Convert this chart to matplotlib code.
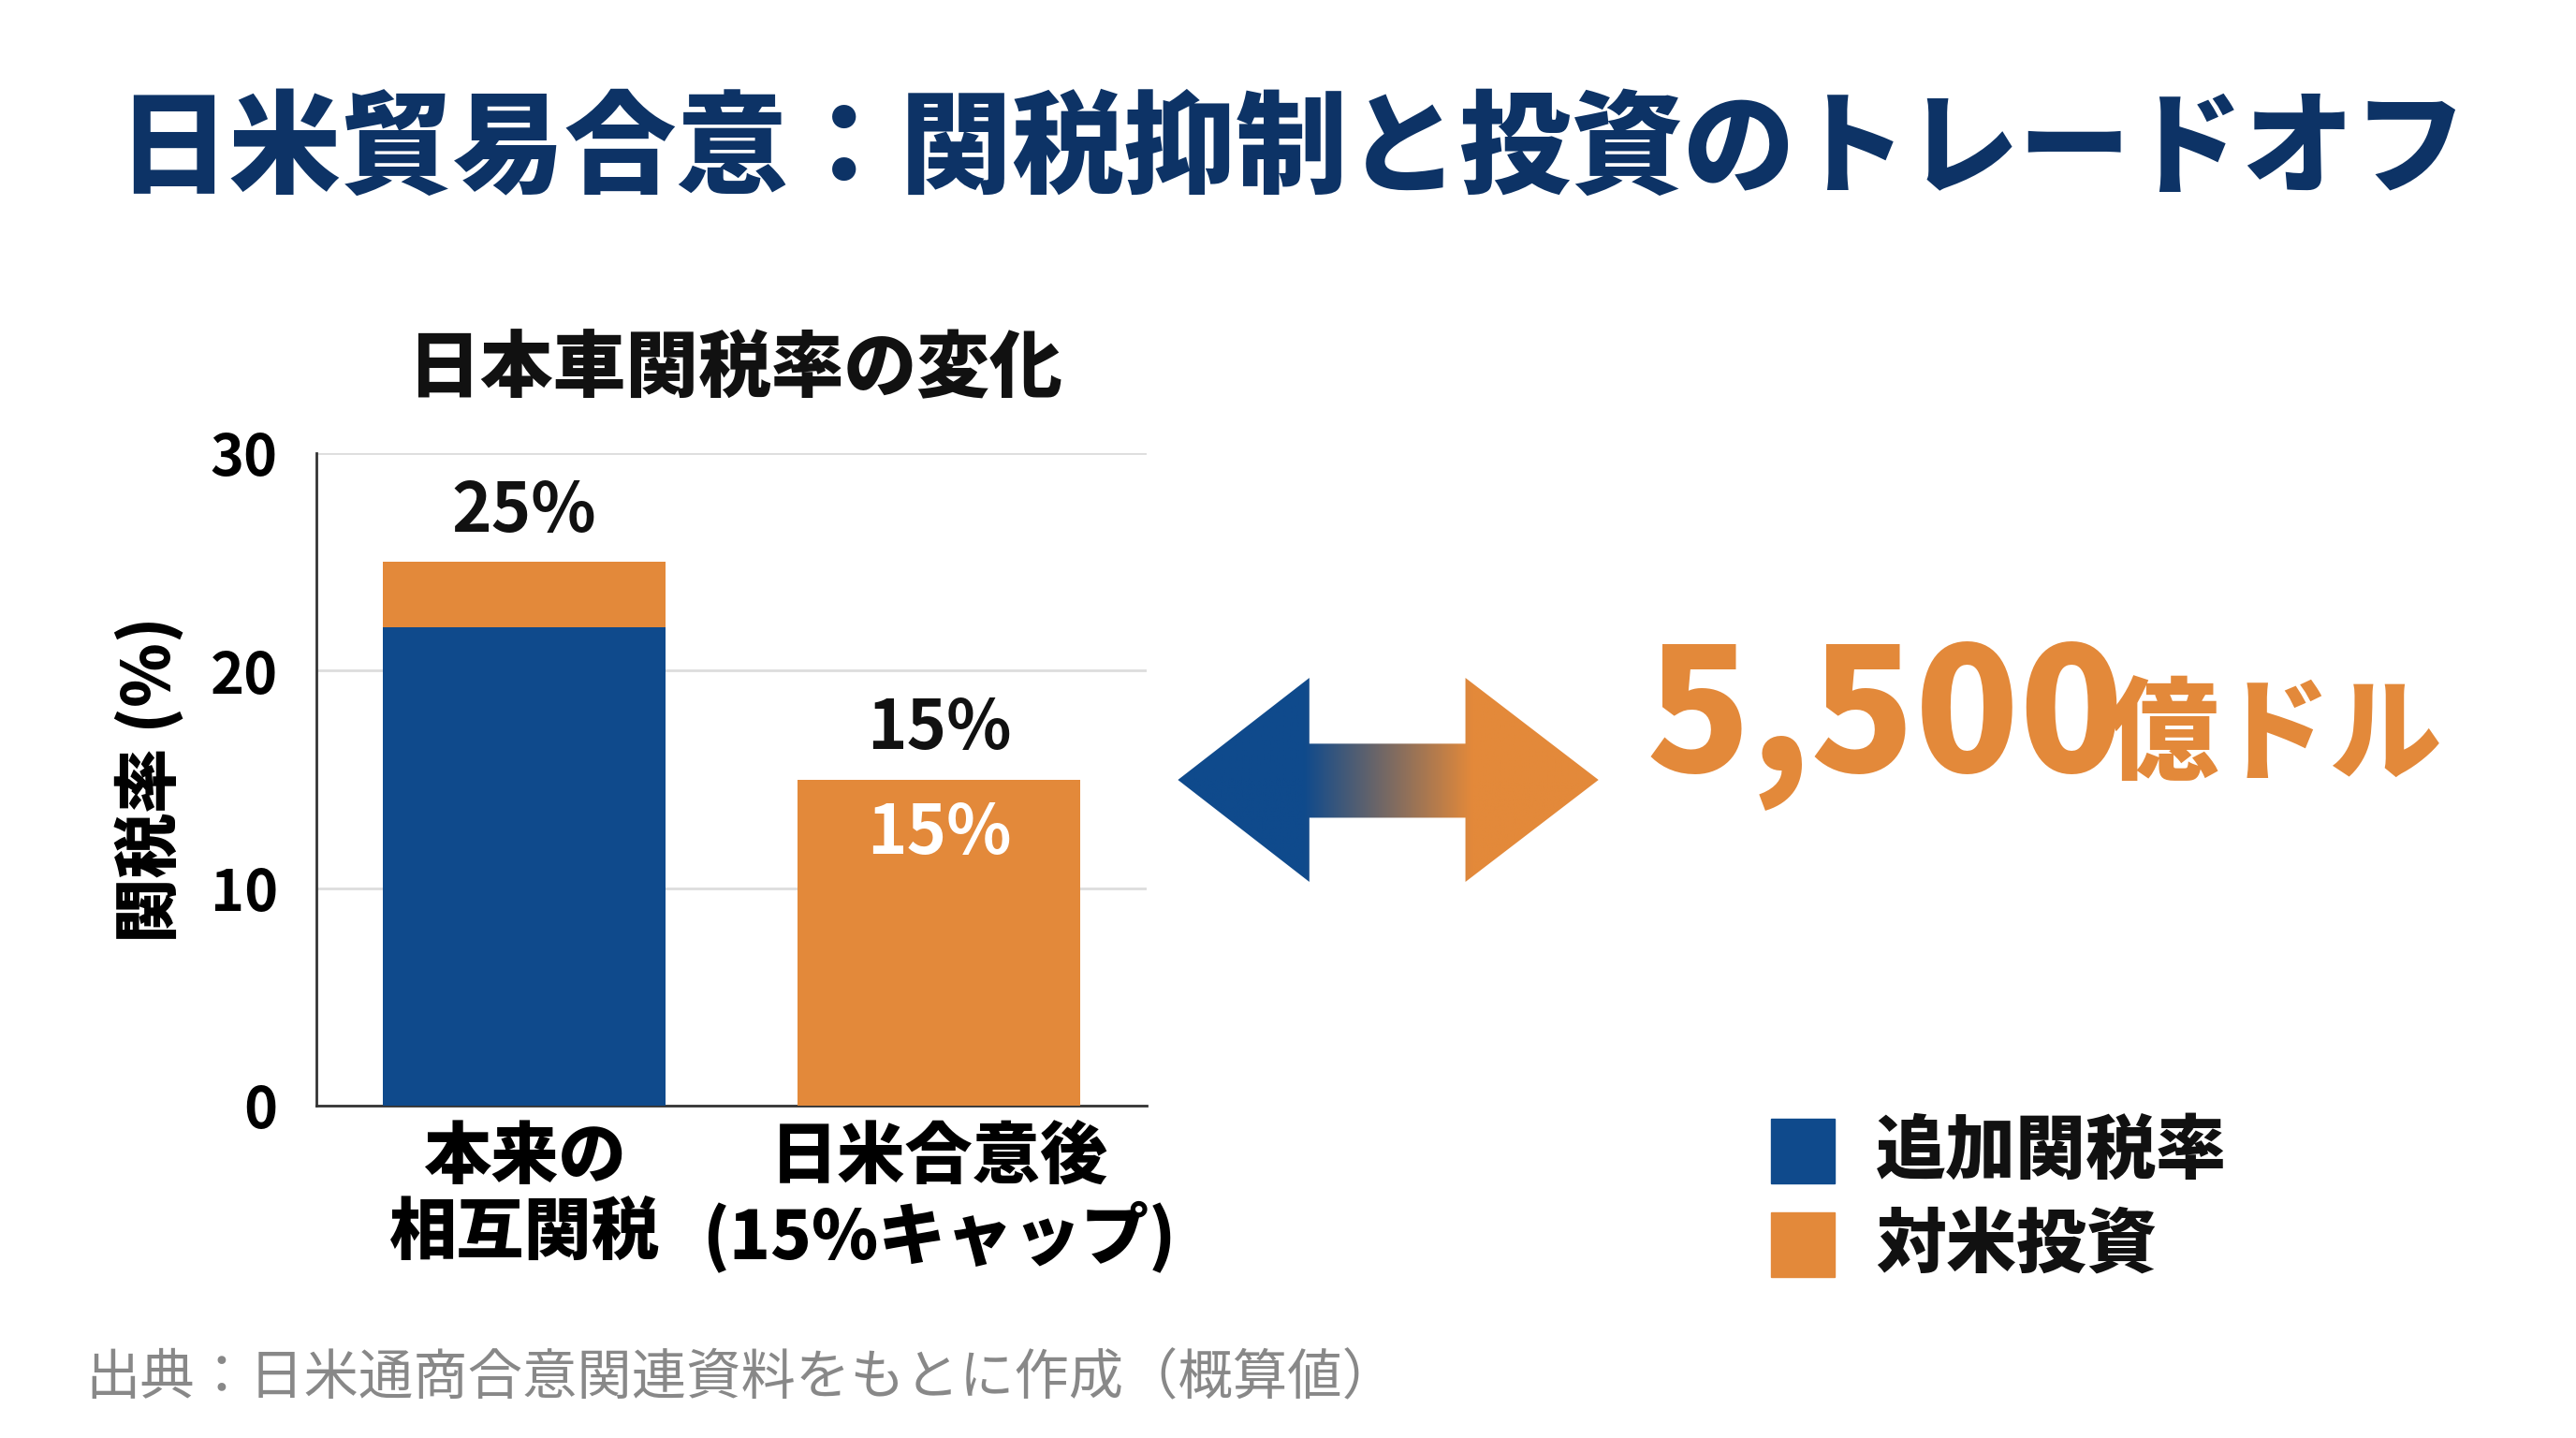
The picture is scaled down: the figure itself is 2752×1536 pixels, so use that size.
import matplotlib
matplotlib.use("Agg")
import matplotlib.pyplot as plt
import numpy as np
from matplotlib.colors import LinearSegmentedColormap
from matplotlib.patches import Polygon

plt.rcParams['font.family'] = ['Noto Sans CJK JP', 'DejaVu Sans']

categories = ["本来の\n相互関税", "日米合意後\n(15%キャップ)"]
extra_tariff = [22, 0]
us_investment = [3, 15]
totals = [25, 15]
inner_labels = [None, "15%"]
yticks = [0, 10, 20, 30]
investment_text = "5,500"
investment_unit = "億ドル"

BLUE = "#0f4a8c"
ORANGE = "#e3893a"
NAVY = "#0d3366"

fig = plt.figure(figsize=(27.52, 15.36), dpi=100)
fig.patch.set_facecolor("white")

# overlay in reference pixel coords (1568 x 874 view)
ov = fig.add_axes([0, 0, 1, 1])
ov.set_xlim(0, 1568)
ov.set_ylim(874, 0)
ov.axis("off")

ov.text(786, 92, "日米貿易合意：関税抑制と投資のトレードオフ", ha="center", va="center",
        fontsize=86, fontweight="black", color=NAVY)
ov.text(447, 225, "日本車関税率の変化", ha="center", va="center",
        fontsize=56, fontweight="black", color="#111111")
ov.text(52, 838, "出典：日米通商合意関連資料をもとに作成（概算値）", ha="left", va="center",
        fontsize=42, color="#888888")

# gradient double arrow
arrow = Polygon([(717, 474), (797, 412), (797, 452), (892, 452), (892, 412),
                 (973, 474), (892, 536), (892, 497), (797, 497), (797, 536)],
                closed=True, facecolor="none", edgecolor="none")
ov.add_patch(arrow)
cmap = LinearSegmentedColormap.from_list("g", [(0, BLUE), (0.3, BLUE), (0.7, ORANGE), (1, ORANGE)])
grad = np.linspace(0, 1, 256).reshape(1, -1)
im = ov.imshow(grad, cmap=cmap, extent=(717, 973, 536, 412), aspect="auto", zorder=2)
im.set_clip_path(arrow)

ov.text(1002, 440, investment_text, ha="left", va="center", fontsize=132,
        fontweight="black", color=ORANGE)
ov.text(1282, 448, investment_unit, ha="left", va="center", fontsize=86,
        fontweight="black", color=ORANGE)

# legend
for y, c, lab in [(700, BLUE, "追加関税率"), (757, ORANGE, "対米投資")]:
    ov.add_patch(plt.Rectangle((1078, y - 20), 39, 39, color=c))
    ov.text(1142, y, lab, ha="left", va="center", fontsize=54, fontweight="black", color="#111111")

# bar chart
ax = fig.add_axes([0.123, 0.231, 0.322, 0.454])
x = np.arange(len(categories))
ax.bar(x, extra_tariff, width=0.68, color=BLUE, zorder=3)
ax.bar(x, us_investment, bottom=extra_tariff, width=0.68, color=ORANGE, zorder=3)
for xi, t, inner in zip(x, totals, inner_labels):
    ax.text(xi, t + 0.7, f"{t}%", ha="center", va="bottom", fontsize=52,
            fontweight="bold", color="#111111")
    if inner:
        ax.text(xi, t - 2.5, inner, ha="center", va="center", fontsize=52,
                fontweight="bold", color="white", zorder=4)
ax.set_xlim(-0.5, 1.5)
ax.set_ylim(0, 30)
ax.set_yticks(yticks)
ax.set_yticklabels([str(v) for v in yticks], fontsize=44, fontweight="bold")
ax.set_xticks(x)
ax.set_xticklabels(categories, fontsize=52, fontweight="black", linespacing=1.15)
ax.tick_params(length=0, pad=14)
ax.tick_params(axis="y", pad=30)
ax.set_ylabel("関税率 (%)", fontsize=50, fontweight="black", labelpad=20)
ax.yaxis.grid(True, color="#dddddd", linewidth=2, zorder=0)
for s in ["top", "right"]:
    ax.spines[s].set_visible(False)
for s in ["left", "bottom"]:
    ax.spines[s].set_color("#333333")
    ax.spines[s].set_linewidth(2)

fig.savefig("out.png", dpi=100, facecolor="white")
